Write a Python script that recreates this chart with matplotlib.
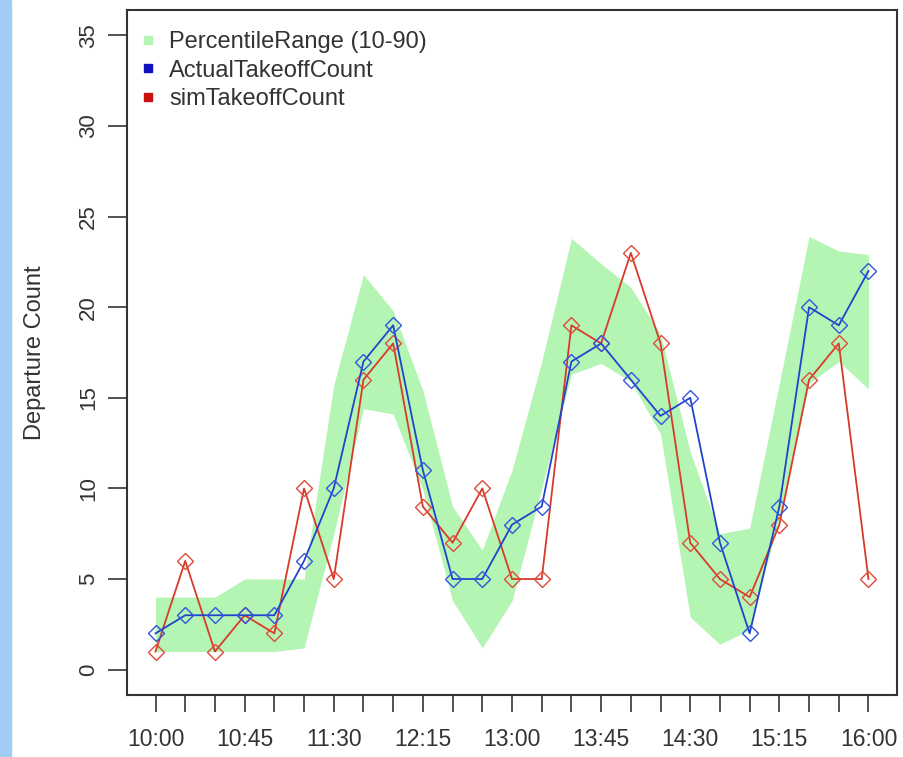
import matplotlib.pyplot as plt
from matplotlib.lines import Line2D
from matplotlib.patches import Rectangle

plt.rcParams["font.family"] = ["Liberation Sans", "DejaVu Sans"]

# 15-minute slots from 10:00 to 16:00
times = ["10:00", "10:15", "10:30", "10:45", "11:00", "11:15", "11:30", "11:45",
         "12:00", "12:15", "12:30", "12:45", "13:00", "13:15", "13:30", "13:45",
         "14:00", "14:15", "14:30", "14:45", "15:00", "15:15", "15:30", "15:45",
         "16:00"]

actual = [2, 3, 3, 3, 3, 6, 10, 17, 19, 11, 5, 5, 8, 9, 17, 18, 16, 14, 15, 7,
          2, 9, 20, 19, 22]
sim = [1, 6, 1, 3, 2, 10, 5, 16, 18, 9, 7, 10, 5, 5, 19, 18, 23, 18, 7, 5,
       4, 8, 16, 18, 5]

p10 = [1, 1, 1, 1, 1, 1.2, 7.5, 14.4, 14.1, 9.9, 3.8, 1.2, 3.8, 10, 16.3,
       16.9, 15.9, 13, 2.9, 1.4, 2.2, 8.4, 15.8, 17, 15.5]
p90 = [4, 4, 4, 5, 5, 5, 15.7, 21.8, 19.8, 15.4, 9, 6.6, 11, 17, 23.8,
       22.4, 21.1, 18.5, 12, 7.5, 7.8, 15.8, 23.9, 23.1, 22.9]

x = list(range(len(times)))

fig = plt.figure(figsize=(9.04, 7.57), dpi=100)
fig.patches.append(Rectangle((0, 0), 11 / 904, 1, transform=fig.transFigure,
                             color="#9fccf2", zorder=0))
ax = fig.add_axes([127 / 904, 62 / 757, 770 / 904, 685 / 757])

ax.fill_between(x, p10, p90, color="#b4f5b4", linewidth=0, zorder=1)
ax.plot(x, actual, color="#2244cc", linewidth=1.3, marker="D", markersize=8.5,
        markerfacecolor="none", markeredgecolor="#3355dd", markeredgewidth=1.0, zorder=3)
ax.plot(x, sim, color="#d83a2a", linewidth=1.3, marker="D", markersize=8.5,
        markerfacecolor="none", markeredgecolor="#e04a3a", markeredgewidth=1.0, zorder=2)

ax.set_xlim(-0.96, 24.96)
ax.set_ylim(-1.4, 36.4)
ax.set_yticks(range(0, 36, 5))
ax.set_yticklabels([str(v) for v in range(0, 36, 5)], rotation=90, va="center")
ax.set_xticks(x)
ax.set_xticklabels([t if i % 3 == 0 else "" for i, t in enumerate(times)])
ax.tick_params(axis="y", length=14, width=1.2, pad=6, labelsize=16, colors="#333333")
ax.tick_params(axis="x", length=12, width=1.2, pad=12, labelsize=16.5, colors="#333333")
for s in ax.spines.values():
    s.set_linewidth(1.5)
    s.set_color("#333333")
ax.set_ylabel("Departure Count", fontsize=17, color="#333333", labelpad=23)

handles = [
    Line2D([], [], linestyle="none", marker="s", markersize=6, color="#b4f5b4"),
    Line2D([], [], linestyle="none", marker="s", markersize=6, color="#1010c0"),
    Line2D([], [], linestyle="none", marker="s", markersize=6, color="#cc1010"),
]
ax.legend(handles, ["PercentileRange (10-90)", "ActualTakeoffCount", "simTakeoffCount"],
          loc="upper left", bbox_to_anchor=(14 / 770, 1 - 21 / 685), frameon=False,
          fontsize=17, handlelength=0.6, handletextpad=0.6, labelspacing=0.28,
          borderaxespad=0, borderpad=0, labelcolor="#333333")

fig.savefig("out.png", dpi=100)
